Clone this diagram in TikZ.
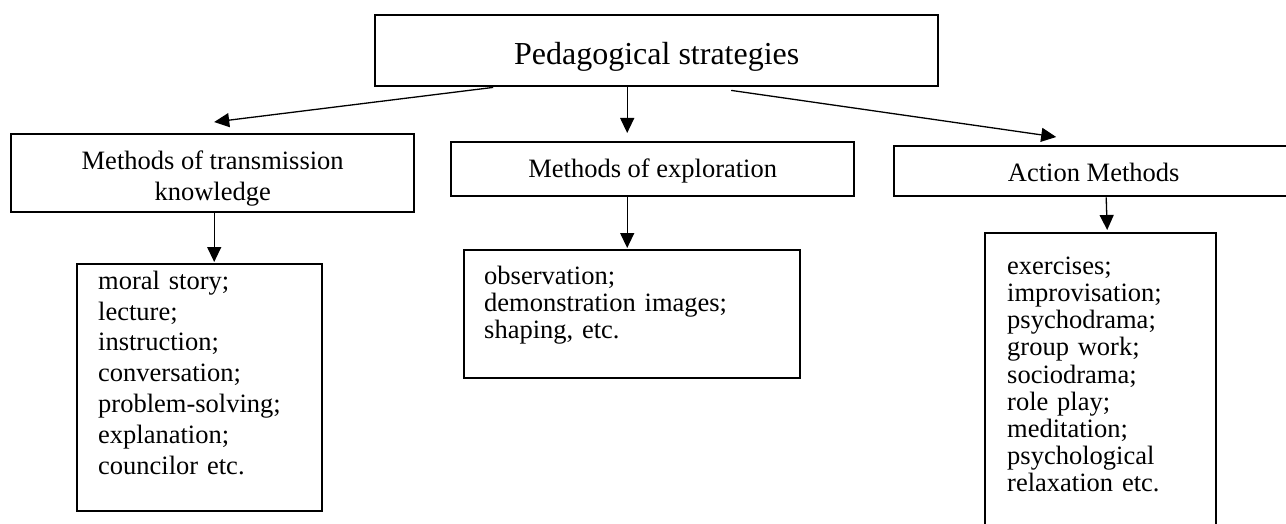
\documentclass[tikz,border=0pt]{standalone}
\usepackage{fontspec}
\setmainfont{Liberation Serif}
\usetikzlibrary{arrows.meta}
\begin{document}
\begin{tikzpicture}[x=1pt,y=-1pt,
  box/.style={draw, line width=2.4pt, inner sep=0pt, anchor=north west,
    font=\fontsize{26.5pt}{31pt}\selectfont},
  listbox/.style={box, align=left, inner ysep=0pt},
  arr/.style={line width=1.3pt, -{Triangle[length=15pt,width=14pt]}}]
\path[use as bounding box, clip] (0,0) rectangle (1286,524);
% title
\node[box, minimum width=563pt, text height=49pt, text depth=22pt,
  font=\fontsize{32pt}{38pt}\selectfont] (top) at (374,14) {Pedagogical strategies};
% second level
\node[box, minimum width=403pt, align=center, text height=66pt, text depth=12pt]
  (m1) at (10,133) {Methods of transmission\\knowledge};
\node[box, minimum width=403pt, text height=35pt, text depth=19pt]
  (m2) at (450,141) {Methods of exploration};
\node[box, minimum width=399pt, text height=35pt, text depth=15pt]
  (m3) at (893,145) {Action Methods};
% lists
\node[listbox, text width=203pt, inner xsep=21pt, text height=25pt, text depth=222pt,
  font=\fontsize{26.5pt}{30.8pt}\selectfont]
  (l1) at (76,263) {moral story;\\lecture;\\instruction;\\conversation;\\problem-solving;\\explanation;\\councilor etc.};
\node[listbox, text width=296pt, inner xsep=20pt, text height=34pt, text depth=94pt,
  font=\fontsize{26.5pt}{27.3pt}\selectfont]
  (l2) at (463,249) {observation;\\demonstration images;\\shaping, etc.};
\node[listbox, text width=187pt, inner xsep=22pt, text height=41pt, text depth=300pt,
  font=\fontsize{26.5pt}{27.2pt}\selectfont]
  (l3) at (984,232) {exercises;\\improvisation;\\psychodrama;\\group work;\\sociodrama;\\role play;\\meditation;\\psychological\\relaxation etc.};
% connectors
\draw[arr] ([xshift=-163.5pt]top.south) -- ([xshift=1.5pt,yshift=11pt]m1.north);
\draw[arr] ([xshift=-29.5pt]top.south) -- ([xshift=-25.5pt,yshift=8pt]m2.north);
\draw[arr] ([xshift=74.5pt,yshift=-3pt]top.south) -- ([xshift=-37.5pt,yshift=8pt]m3.north);
\draw[arr] ([xshift=1.5pt]m1.south) -- ([xshift=14.5pt,yshift=1pt]l1.north);
\draw[arr] ([xshift=-25.5pt]m2.south) -- ([xshift=-5pt,yshift=1pt]l2.north);
\draw[arr] ([xshift=12.5pt]m3.south) -- ([xshift=6.5pt,yshift=2pt]l3.north);
\end{tikzpicture}
\end{document}
